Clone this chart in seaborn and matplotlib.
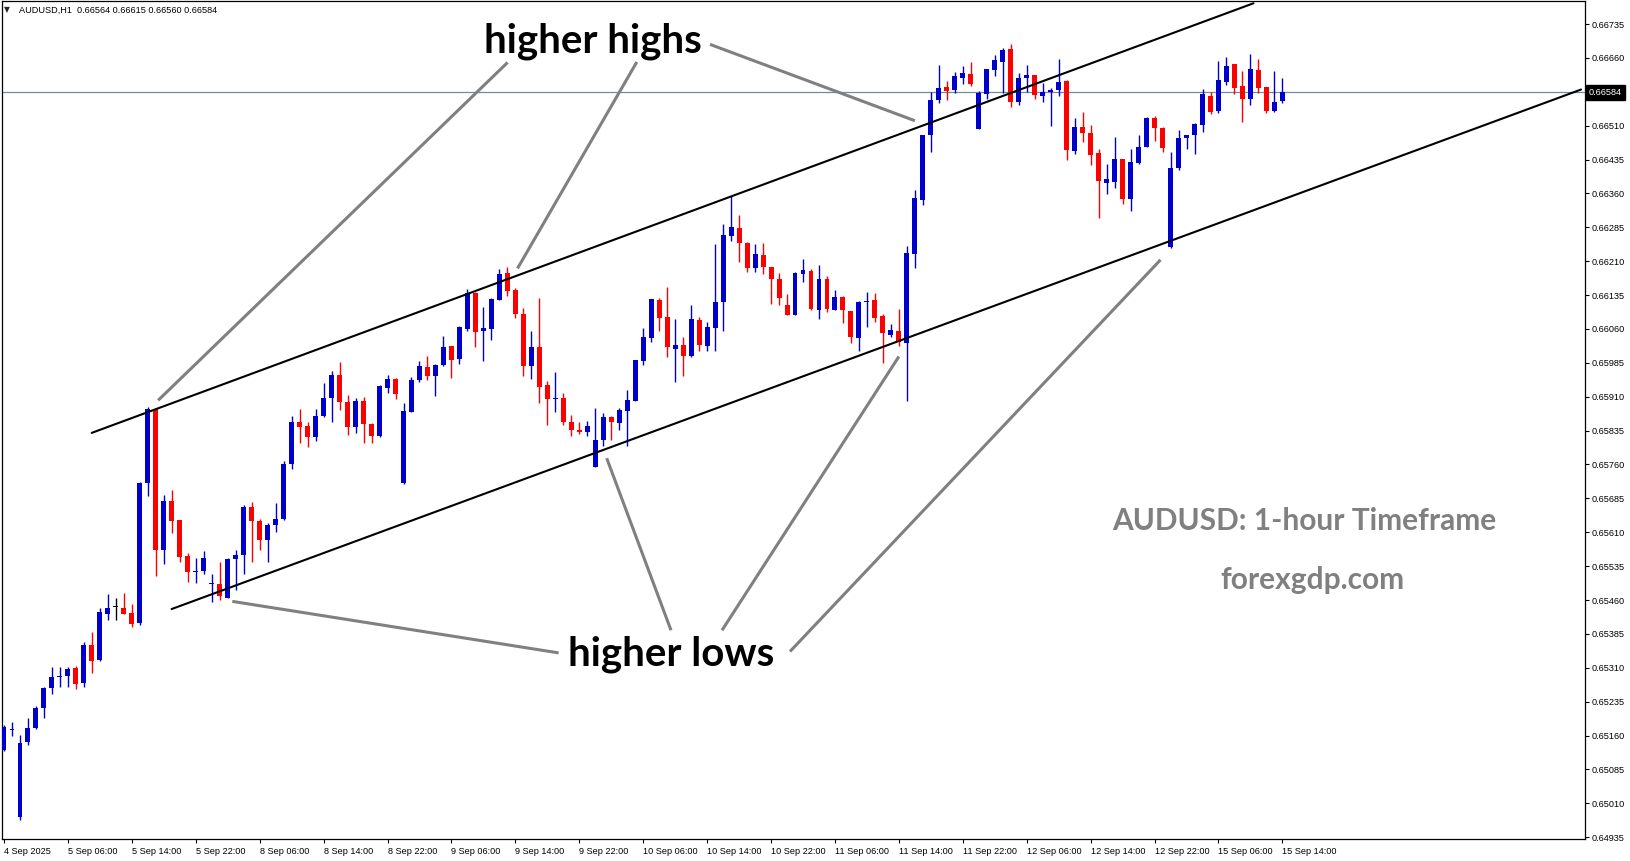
import numpy as np
import pandas as pd
import seaborn as sns
import matplotlib
matplotlib.use("Agg")
import matplotlib.pyplot as plt
import matplotlib.transforms as mtransforms

# ---------------- data (AUDUSD H1) ----------------
symbol = "AUDUSD,H1"
opens = [0.65128, 0.65173, 0.64980, 0.65145, 0.65177, 0.65220, 0.65266, 0.65289, 0.65291, 0.65310,
         0.65277, 0.65361, 0.65328, 0.65430, 0.65444, 0.65443, 0.65431, 0.65409, 0.65720, 0.65882,
         0.65571, 0.65679, 0.65637, 0.65557, 0.65521, 0.65524, 0.65495, 0.65496, 0.65465, 0.65550,
         0.65560, 0.65666, 0.65636, 0.65593, 0.65626, 0.65640, 0.65761, 0.65854, 0.65845, 0.65821,
         0.65868, 0.65907, 0.65958, 0.65899, 0.65844, 0.65901, 0.65850, 0.65822, 0.65930, 0.65949,
         0.65719, 0.65876, 0.65947, 0.65976, 0.65955, 0.65980, 0.66022, 0.65994, 0.66061, 0.66140,
         0.66056, 0.66061, 0.66125, 0.66184, 0.66146, 0.66093, 0.65977, 0.66020, 0.65936, 0.65904,
         0.65907, 0.65854, 0.65837, 0.65831, 0.65755, 0.65814, 0.65865, 0.65852, 0.65879, 0.65901,
         0.65988, 0.66041, 0.66124, 0.66087, 0.66016, 0.66025, 0.66001, 0.66080, 0.66023, 0.66063,
         0.66120, 0.66266, 0.66284, 0.66251, 0.66194, 0.66224, 0.66197, 0.66171, 0.66113, 0.66092,
         0.66182, 0.66188, 0.66103, 0.66171, 0.66103, 0.66131, 0.66100, 0.66041, 0.66120, 0.66124,
         0.66089, 0.66047, 0.66056, 0.66030, 0.66227, 0.66346, 0.66489, 0.66567, 0.66595, 0.66589,
         0.66615, 0.66625, 0.66503, 0.66580, 0.66633, 0.66651, 0.66680, 0.66562, 0.66615, 0.66622,
         0.66576, 0.66585, 0.66589, 0.66609, 0.66454, 0.66507, 0.66494, 0.66449, 0.66383, 0.66385,
         0.66436, 0.66348, 0.66427, 0.66463, 0.66527, 0.66505, 0.66242, 0.66416, 0.66483, 0.66489,
         0.66512, 0.66576, 0.66542, 0.66607, 0.66646, 0.66598, 0.66569, 0.66633, 0.66595, 0.66542,
         0.66564]
highs = [0.65184, 0.65190, 0.65162, 0.65199, 0.65226, 0.65267, 0.65312, 0.65312, 0.65312, 0.65314,
         0.65367, 0.65390, 0.65443, 0.65474, 0.65465, 0.65476, 0.65451, 0.65721, 0.65887, 0.65885,
         0.65693, 0.65704, 0.65637, 0.65564, 0.65553, 0.65569, 0.65518, 0.65544, 0.65552, 0.65571,
         0.65671, 0.65677, 0.65640, 0.65631, 0.65675, 0.65768, 0.65868, 0.65883, 0.65854, 0.65883,
         0.65941, 0.65967, 0.65987, 0.65914, 0.65908, 0.65909, 0.65852, 0.65935, 0.65958, 0.65952,
         0.65896, 0.65954, 0.65989, 0.66000, 0.65983, 0.66045, 0.66023, 0.66067, 0.66149, 0.66141,
         0.66109, 0.66129, 0.66193, 0.66197, 0.66151, 0.66107, 0.66056, 0.66129, 0.65945, 0.65965,
         0.65918, 0.65870, 0.65855, 0.65857, 0.65885, 0.65874, 0.65868, 0.65885, 0.65926, 0.65992,
         0.66062, 0.66127, 0.66129, 0.66154, 0.66083, 0.66043, 0.66113, 0.66087, 0.66076, 0.66248,
         0.66292, 0.66354, 0.66312, 0.66252, 0.66248, 0.66250, 0.66198, 0.66184, 0.66138, 0.66186,
         0.66215, 0.66193, 0.66202, 0.66177, 0.66146, 0.66133, 0.66100, 0.66122, 0.66142, 0.66140,
         0.66094, 0.66072, 0.66105, 0.66244, 0.66368, 0.66490, 0.66585, 0.66644, 0.66609, 0.66629,
         0.66642, 0.66651, 0.66587, 0.66635, 0.66666, 0.66682, 0.66691, 0.66627, 0.66644, 0.66622,
         0.66604, 0.66593, 0.66658, 0.66611, 0.66527, 0.66540, 0.66512, 0.66458, 0.66425, 0.66485,
         0.66436, 0.66458, 0.66489, 0.66529, 0.66531, 0.66507, 0.66452, 0.66500, 0.66490, 0.66516,
         0.66591, 0.66585, 0.66653, 0.66662, 0.66646, 0.66631, 0.66669, 0.66658, 0.66595, 0.66631,
         0.66615]
lows = [0.65126, 0.65159, 0.64973, 0.65138, 0.65175, 0.65199, 0.65253, 0.65268, 0.65268, 0.65262,
        0.65268, 0.65299, 0.65324, 0.65416, 0.65416, 0.65429, 0.65401, 0.65405, 0.65691, 0.65513,
        0.65540, 0.65609, 0.65544, 0.65500, 0.65498, 0.65518, 0.65456, 0.65459, 0.65464, 0.65482,
        0.65518, 0.65544, 0.65571, 0.65544, 0.65611, 0.65637, 0.65750, 0.65808, 0.65799, 0.65812,
        0.65866, 0.65853, 0.65881, 0.65826, 0.65830, 0.65808, 0.65808, 0.65821, 0.65919, 0.65904,
        0.65717, 0.65876, 0.65943, 0.65947, 0.65912, 0.65978, 0.65952, 0.65983, 0.66056, 0.66021,
        0.65988, 0.66036, 0.66124, 0.66134, 0.66085, 0.65957, 0.65950, 0.65897, 0.65848, 0.65877,
        0.65848, 0.65824, 0.65828, 0.65822, 0.65755, 0.65800, 0.65815, 0.65837, 0.65800, 0.65900,
        0.65981, 0.66031, 0.66056, 0.65997, 0.65943, 0.65957, 0.65999, 0.66012, 0.66012, 0.66012,
        0.66056, 0.66255, 0.66209, 0.66187, 0.66187, 0.66182, 0.66116, 0.66114, 0.66090, 0.66090,
        0.66163, 0.66103, 0.66081, 0.66098, 0.66102, 0.66074, 0.66030, 0.66012, 0.66065, 0.66076,
        0.65985, 0.66043, 0.66023, 0.65901, 0.66196, 0.66335, 0.66452, 0.66561, 0.66567, 0.66582,
        0.66602, 0.66598, 0.66503, 0.66569, 0.66620, 0.66582, 0.66551, 0.66556, 0.66585, 0.66569,
        0.66562, 0.66509, 0.66576, 0.66434, 0.66447, 0.66474, 0.66423, 0.66306, 0.66359, 0.66372,
        0.66337, 0.66321, 0.66425, 0.66462, 0.66476, 0.66452, 0.66239, 0.66412, 0.66458, 0.66447,
        0.66496, 0.66536, 0.66538, 0.66600, 0.66580, 0.66518, 0.66556, 0.66582, 0.66538, 0.66540,
        0.66560]
closes = [0.65179, 0.65175, 0.65144, 0.65177, 0.65221, 0.65266, 0.65290, 0.65292, 0.65308, 0.65275,
          0.65361, 0.65326, 0.65434, 0.65443, 0.65444, 0.65430, 0.65408, 0.65719, 0.65882, 0.65571,
          0.65679, 0.65635, 0.65556, 0.65522, 0.65524, 0.65553, 0.65496, 0.65468, 0.65551, 0.65560,
          0.65666, 0.65635, 0.65593, 0.65626, 0.65640, 0.65761, 0.65854, 0.65843, 0.65821, 0.65868,
          0.65907, 0.65958, 0.65899, 0.65844, 0.65901, 0.65850, 0.65822, 0.65933, 0.65949, 0.65916,
          0.65879, 0.65947, 0.65978, 0.65956, 0.65980, 0.66020, 0.65992, 0.66064, 0.66140, 0.66054,
          0.66062, 0.66126, 0.66182, 0.66145, 0.66094, 0.65977, 0.66020, 0.65932, 0.65904, 0.65907,
          0.65855, 0.65837, 0.65831, 0.65845, 0.65814, 0.65865, 0.65853, 0.65881, 0.65903, 0.65991,
          0.66042, 0.66126, 0.66085, 0.66019, 0.66025, 0.66001, 0.66082, 0.66025, 0.66064, 0.66120,
          0.66268, 0.66286, 0.66251, 0.66194, 0.66226, 0.66198, 0.66171, 0.66129, 0.66090, 0.66184,
          0.66191, 0.66105, 0.66171, 0.66105, 0.66131, 0.66101, 0.66043, 0.66120, 0.66122, 0.66085,
          0.66050, 0.66058, 0.66032, 0.66228, 0.66350, 0.66489, 0.66567, 0.66593, 0.66587, 0.66620,
          0.66627, 0.66602, 0.66582, 0.66635, 0.66655, 0.66677, 0.66562, 0.66615, 0.66622, 0.66579,
          0.66585, 0.66589, 0.66607, 0.66456, 0.66507, 0.66494, 0.66445, 0.66388, 0.66392, 0.66436,
          0.66348, 0.66430, 0.66463, 0.66527, 0.66505, 0.66461, 0.66416, 0.66483, 0.66489, 0.66514,
          0.66580, 0.66540, 0.66611, 0.66642, 0.66593, 0.66569, 0.66635, 0.66593, 0.66542, 0.66562,
          0.66584]
time_labels = ["4 Sep 2025", "5 Sep 06:00", "5 Sep 14:00", "5 Sep 22:00", "8 Sep 06:00",
               "8 Sep 14:00", "8 Sep 22:00", "9 Sep 06:00", "9 Sep 14:00", "9 Sep 22:00",
               "10 Sep 06:00", "10 Sep 14:00", "10 Sep 22:00", "11 Sep 06:00", "11 Sep 14:00",
               "11 Sep 22:00", "12 Sep 06:00", "12 Sep 14:00", "12 Sep 22:00", "15 Sep 06:00",
               "15 Sep 14:00"]
bars_per_label = 8
price_ticks = [0.64935 + 0.00075 * k for k in range(25)]

# trend channel (bar index, price)
upper_channel_bars = [10.98, 156.38]
upper_channel_prices = [0.65830, 0.66781]
lower_channel_bars = [20.98, 197.37]
lower_channel_prices = [0.65440, 0.66590]

# pointer lines: (bar0, price0, bar1, price1)
highs_pointers = [(63.03, 0.66650, 19.29, 0.65902),
                  (79.2, 0.66651, 64.27, 0.66194),
                  (88.36, 0.66690, 114.0, 0.66521)]
lows_pointers = [(69.41, 0.65343, 28.57, 0.65457),
                 (83.48, 0.65393, 75.43, 0.65774),
                 (89.86, 0.65393, 112.0, 0.65999),
                 (98.37, 0.65346, 144.74, 0.66213)]

# ---------------- build ----------------
df = pd.DataFrame({"open": opens, "high": highs, "low": lows, "close": closes})
df["bar"] = np.arange(len(df))

sns.set_theme(style="white")
plt.rcParams["font.family"] = ["Liberation Sans", "DejaVu Sans"]

W, H = 1631, 861
fig = plt.figure(figsize=(W / 100, H / 100), dpi=100)
fig.patch.set_facecolor("white")
ax = fig.add_axes([2 / W, 22 / H, 1583 / W, 838 / H])
ax.set_facecolor("white")

UP, DOWN, FLAT = "#0000CD", "#FF0000", "#000000"
colors = np.where(df["close"] > df["open"], UP, np.where(df["close"] < df["open"], DOWN, FLAT))

# wicks
ax.vlines(df["bar"], df["low"], df["high"], colors=colors, lw=1.0, zorder=2)
# bodies
body_lo = np.minimum(df["open"], df["close"])
body_h = np.maximum(np.abs(df["close"] - df["open"]), 0.000025)
ax.bar(df["bar"], body_h, bottom=body_lo, width=0.62, color=colors, linewidth=0, zorder=3)

# current price line
last_close = closes[-1]
ax.axhline(last_close, color="#778899", lw=0.9, zorder=1)

# channel
ax.plot(upper_channel_bars, upper_channel_prices, color="black", lw=1.5, zorder=4)
ax.plot(lower_channel_bars, lower_channel_prices, color="black", lw=1.5, zorder=4)

for b0, p0, b1, p1 in highs_pointers + lows_pointers:
    ax.plot([b0, b1], [p0, p1], color="#808080", lw=2.2, solid_capstyle="butt", zorder=4)

ax.text(73.7, 0.66672, "higher highs", ha="center", va="baseline", fontsize=29,
        fontweight="bold", family="Lato", color="black", zorder=6)
ax.text(83.5, 0.65315, "higher lows", ha="center", va="baseline", fontsize=29,
        fontweight="bold", family="Lato", color="black", zorder=6)
ax.text(162.8, 0.65614, "AUDUSD: 1-hour Timeframe", ha="center", va="baseline", fontsize=21.5,
        fontweight="bold", family="Lato", color="#808080", zorder=6)
ax.text(163.8, 0.65485, "forexgdp.com", ha="center", va="baseline", fontsize=21.5,
        fontweight="bold", family="Lato", color="#808080", zorder=6)

# axes
ax.set_xlim(-0.25, 197.87)
ax.set_ylim(0.64931, 0.66786)
ax.yaxis.tick_right()
ax.set_yticks(price_ticks)
ax.set_yticklabels([f"{v:.5f}" for v in price_ticks])
ax.set_xticks(np.arange(len(time_labels)) * bars_per_label)
ax.set_xticklabels(time_labels, ha="left")
ax.tick_params(axis="y", direction="out", length=3, width=0.8, labelsize=6.6, pad=2,
               colors="black", right=True, left=False)
ax.tick_params(axis="x", direction="out", length=3, width=0.8, labelsize=6.6, pad=3,
               colors="black", bottom=True)
for lbl in ax.get_xticklabels():
    lbl.set_x(lbl.get_position()[0])
for s in ax.spines.values():
    s.set_visible(True)
    s.set_color("black")
    s.set_linewidth(0.9)
ax.grid(False)

# current price box on the right scale
trans = mtransforms.blended_transform_factory(ax.transAxes, ax.transData)
ax.text(1.0 + 4 / 1583, last_close, f"{last_close:.5f}", transform=trans, ha="left", va="center",
        fontsize=6.6, color="white", clip_on=False, zorder=10,
        bbox=dict(boxstyle="square,pad=0.3", fc="black", ec="black"))

# header
fig.text(4 / W, 1 - 10 / H, "\u25BC", fontsize=5.5, family="DejaVu Sans", va="center", ha="left")
fig.text(19 / W, 1 - 10 / H,
         f"{symbol}  {opens[-1]:.5f} {highs[-1]:.5f} {lows[-1]:.5f} {closes[-1]:.5f}",
         fontsize=6.6, va="center", ha="left", color="black")

fig.savefig("out.png", dpi=100, facecolor="white")
